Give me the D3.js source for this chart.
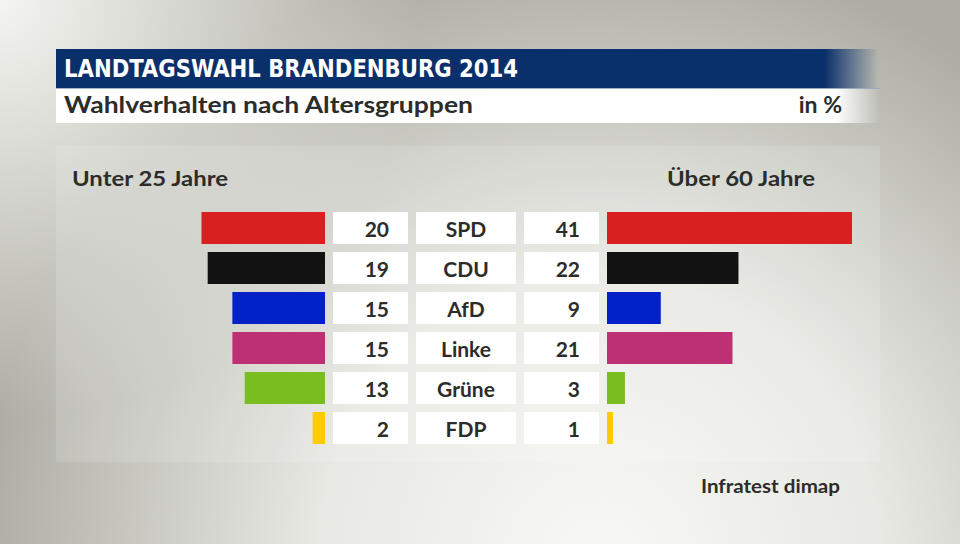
<!DOCTYPE html>
<html><head><meta charset="utf-8">
<script src="https://cdn.jsdelivr.net/npm/d3@7"></script>
<style>
html,body{margin:0;padding:0;width:960px;height:544px;overflow:hidden;background:#b5b5ad}
svg{display:block}
text{font-family:Lato,"Open Sans",sans-serif;font-weight:700;fill:#2c2c2a}
</style></head>
<body>
<svg id="c" width="960" height="544"></svg>
<script>
const parties = ["SPD","CDU","AfD","Linke","Grüne","FDP"];
const under25 = [20,19,15,15,13,2];
const over60 = [41,22,9,21,3,1];
const colors = ["#d82020","#121212","#0020c8","#bd3074","#79bd1f","#ffcc00"];
const title = "LANDTAGSWAHL BRANDENBURG 2014";
const subtitle = "Wahlverhalten nach Altersgruppen";
const unit = "in %";
const leftLabel = "Unter 25 Jahre";
const rightLabel = "Über 60 Jahre";
const source = "Infratest dimap";

const svg = d3.select("#c");
const defs = svg.append("defs");

// background gradients
const g1 = defs.append("radialGradient").attr("id","glowBR").attr("gradientUnits","userSpaceOnUse")
  .attr("cx",600).attr("cy",560).attr("r",620);
g1.append("stop").attr("offset",0).attr("stop-color","#f8f9f4").attr("stop-opacity",1);
g1.append("stop").attr("offset",0.45).attr("stop-color","#f3f4ef").attr("stop-opacity",0.85);
g1.append("stop").attr("offset",1).attr("stop-color","#f3f4ef").attr("stop-opacity",0);
const g2 = defs.append("radialGradient").attr("id","glowTL").attr("gradientUnits","userSpaceOnUse")
  .attr("cx",0).attr("cy",0).attr("r",420);
g2.append("stop").attr("offset",0).attr("stop-color","#f4f5f0").attr("stop-opacity",1);
g2.append("stop").attr("offset",1).attr("stop-color","#f4f5f0").attr("stop-opacity",0);

const fadeBlue = defs.append("linearGradient").attr("id","fadeBlue").attr("gradientUnits","userSpaceOnUse")
  .attr("x1",825).attr("x2",878).attr("y1",0).attr("y2",0);
fadeBlue.append("stop").attr("offset",0).attr("stop-color","#0a306b").attr("stop-opacity",1);
fadeBlue.append("stop").attr("offset",1).attr("stop-color","#0a306b").attr("stop-opacity",0);
const fadeWhite = defs.append("linearGradient").attr("id","fadeWhite").attr("gradientUnits","userSpaceOnUse")
  .attr("x1",835).attr("x2",880).attr("y1",0).attr("y2",0);
fadeWhite.append("stop").attr("offset",0).attr("stop-color","#ffffff").attr("stop-opacity",1);
fadeWhite.append("stop").attr("offset",1).attr("stop-color","#ffffff").attr("stop-opacity",0);

svg.append("rect").attr("width",960).attr("height",544).attr("fill","#adada4");
svg.append("rect").attr("width",960).attr("height",544).attr("fill","url(#glowBR)");
svg.append("rect").attr("width",960).attr("height",544).attr("fill","url(#glowTL)");

// panel
svg.append("rect").attr("x",56).attr("y",146).attr("width",824).attr("height",316)
  .attr("fill","#ffffff").attr("opacity",0.14);

// header
svg.append("rect").attr("x",56).attr("y",49).attr("width",822).attr("height",39).attr("fill","url(#fadeBlue)");
svg.append("rect").attr("x",56).attr("y",88).attr("width",824).attr("height",1).attr("fill","#8fa3c4").attr("opacity",0.7);
svg.append("rect").attr("x",56).attr("y",89).attr("width",824).attr("height",34).attr("fill","url(#fadeWhite)");

svg.append("text").attr("x",64).attr("y",76.5).text(title)
  .style("font-family","'Liberation Sans Narrow','DejaVu Sans Condensed',sans-serif")
  .style("font-size","24px").style("fill","#ffffff")
  .attr("textLength",454).attr("lengthAdjust","spacingAndGlyphs");
svg.append("text").attr("x",64).attr("y",113).text(subtitle)
  .style("font-size","23px").attr("textLength",409).attr("lengthAdjust","spacingAndGlyphs");
svg.append("text").attr("x",842).attr("y",113).attr("text-anchor","end").text(unit)
  .style("font-size","23px");

svg.append("text").attr("x",72).attr("y",186).text(leftLabel).style("font-size","21px")
  .attr("textLength",156).attr("lengthAdjust","spacingAndGlyphs");
svg.append("text").attr("x",815).attr("y",186).attr("text-anchor","end").text(rightLabel).style("font-size","21px")
  .attr("textLength",148).attr("lengthAdjust","spacingAndGlyphs");

svg.append("text").attr("x",840).attr("y",493).attr("text-anchor","end").text(source).style("font-size","18px")
  .attr("textLength",139).attr("lengthAdjust","spacingAndGlyphs");

// scales
const y = d3.scaleBand().domain(parties).range([208,448]).paddingInner(0.2).paddingOuter(0.1);
const xL = d3.scaleLinear().domain([0,20]).range([325,201.5]);
const xR = d3.scaleLinear().domain([0,41]).range([607,852]);

const rows = parties.map((p,i)=>({p, a:under25[i], b:over60[i], c:colors[i]}));
const g = svg.append("g");
const row = g.selectAll("g.row").data(rows).join("g").attr("class","row");

row.append("rect").attr("x",d=>xL(d.a)).attr("y",d=>y(d.p)).attr("width",d=>xL(0)-xL(d.a))
  .attr("height",y.bandwidth()).attr("fill",d=>d.c);
row.append("rect").attr("x",xR(0)).attr("y",d=>y(d.p)).attr("width",d=>xR(d.b)-xR(0))
  .attr("height",y.bandwidth()).attr("fill",d=>d.c);

// label boxes
[[333,75],[416,100],[524,75]].forEach(([x,w])=>{
  row.append("rect").attr("x",x).attr("y",d=>y(d.p)).attr("width",w).attr("height",y.bandwidth())
    .attr("fill","#ffffff");
});
row.append("text").attr("x",389).attr("y",d=>y(d.p)+25).attr("text-anchor","end")
  .style("font-size","21px").text(d=>d.a);
row.append("text").attr("x",466).attr("y",d=>y(d.p)+25).attr("text-anchor","middle")
  .style("font-size","21px").text(d=>d.p);
row.append("text").attr("x",580).attr("y",d=>y(d.p)+25).attr("text-anchor","end")
  .style("font-size","21px").text(d=>d.b);
</script>
</body></html>
